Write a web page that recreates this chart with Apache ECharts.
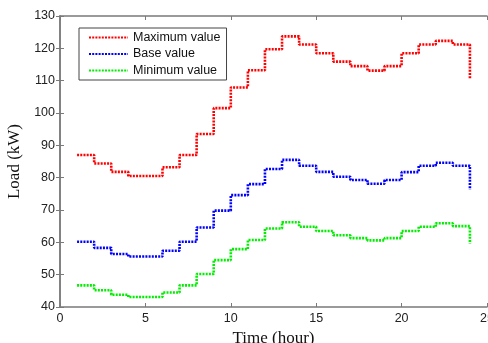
<!DOCTYPE html>
<html><head><meta charset="utf-8">
<script src="https://cdn.jsdelivr.net/npm/echarts@6/dist/echarts.min.js"></script>
<style>html,body{margin:0;padding:0;background:#fff;}#c{width:488px;height:343px;}</style>
</head><body><div id="c"></div>
<script>
const hours = [1,2,3,4,5,6,7,8,9,10,11,12,13,14,15,16,17,18,19,20,21,22,23,24];
const maxValue = [87,84.4,81.8,80.5,80.5,83.2,87,93.5,101.5,107.9,113.2,119.7,123.7,121.2,118.5,115.9,114.5,113.1,114.5,118.5,121.2,122.3,121.2,110.7];
const baseValue = [60.2,58.3,56.4,55.6,55.6,57.4,60.2,64.6,69.8,74.6,78.0,82.7,85.5,83.7,81.8,80.3,79.3,78.1,79.3,81.7,83.7,84.6,83.7,76.3];
const minValue = [46.7,45.2,43.8,43.1,43.1,44.5,46.7,50.2,54.5,57.9,60.7,64.3,66.2,64.8,63.5,62.2,61.3,60.6,61.3,63.5,64.8,65.9,65.0,59.6];
const xTicks = {min:0, max:25, interval:5};
const yTicks = {min:40, max:130, interval:10};

const pair = arr => hours.map((h,i)=>[h, arr[i]]);
const chart = echarts.init(document.getElementById('c'));
const axLine = {lineStyle:{color:'#7a7a7a', width:1.5}};
const tickIn = {inside:true, length:4, lineStyle:{color:'#7a7a7a'}};
const lblFont = {fontFamily:'Liberation Sans', fontSize:12.5, color:'#222'};
function mkSeries(name, data, color){
  return {name, type:'line', data:pair(data), step:'end', symbol:'none', xAxisIndex:0, yAxisIndex:0,
    lineStyle:{color, width:2.6, type:[2,1.2]}, itemStyle:{color}, animation:false};
}
chart.setOption({
  animation:false,
  grid:{left:60, right:1, top:16, bottom:36, containLabel:false, outerBoundsMode:'none'},
  legend:{
    left:79, top:28, orient:'vertical', itemWidth:39, itemHeight:12, itemGap:3.5,
    padding:[3,6,3,9], borderColor:'#444', borderWidth:1, backgroundColor:'#fff', borderRadius:0,
    itemStyle:{opacity:0},
    textStyle:{fontFamily:'Liberation Sans', fontSize:12.5, color:'#111'},
    data:['Maximum value','Base value','Minimum value']
  },
  xAxis:[
    {type:'value', position:'bottom', ...xTicks, axisLine:axLine, axisTick:tickIn, splitLine:{show:false},
     axisLabel:Object.assign({margin:5}, lblFont),
     name:'Time (hour)', nameLocation:'middle', nameGap:18,
     nameTextStyle:{fontFamily:'Liberation Serif', fontSize:17, color:'#111'}},
    {type:'value', position:'top', ...xTicks, axisLine:axLine, axisTick:tickIn, splitLine:{show:false}, axisLabel:{show:false}}
  ],
  yAxis:[
    {type:'value', position:'left', ...yTicks, axisLine:axLine, axisTick:tickIn, splitLine:{show:false},
     axisLabel:Object.assign({margin:5}, lblFont),
     name:'Load (kW)', nameLocation:'middle', nameGap:33,
     nameTextStyle:{fontFamily:'Liberation Serif', fontSize:17, color:'#111'}},
    {type:'value', position:'right', ...yTicks, axisLine:axLine, axisTick:tickIn, splitLine:{show:false}, axisLabel:{show:false}}
  ],
  series:[
    mkSeries('Maximum value', maxValue, '#ff0000'),
    mkSeries('Base value', baseValue, '#0000ff'),
    mkSeries('Minimum value', minValue, '#00ee00')
  ]
});
</script></body></html>
